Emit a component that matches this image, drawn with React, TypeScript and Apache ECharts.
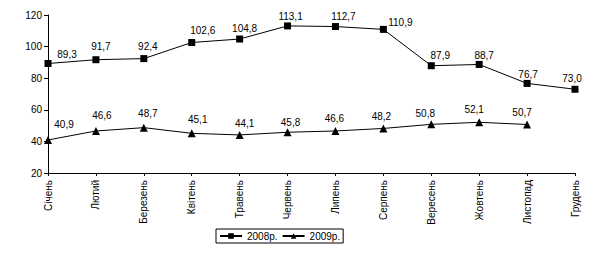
import React, { useEffect, useRef } from "react";
import * as echarts from "echarts";

const categories = ["Січень", "Лютий", "Березень", "Квітень", "Травень", "Червень", "Липень", "Серпень", "Вересень", "Жовтень", "Листопад", "Грудень"];
const series2008 = [89.3, 91.7, 92.4, 102.6, 104.8, 113.1, 112.7, 110.9, 87.9, 88.7, 76.7, 73.0];
const series2009 = [40.9, 46.6, 48.7, 45.1, 44.1, 45.8, 46.6, 48.2, 50.8, 52.1, 50.7];
const yTicks = { min: 20, max: 120, interval: 20 };

// label placement (dx, dy in px relative to the point) as in the reference
const labelShift2008 = [[19, -9], [5, -13], [4, -12], [11, -12], [5, -11], [3, -9], [8, -10], [17, -7], [9, -10], [5, -9], [1, -9], [-3, -11]];
const labelShift2009 = [[16, -15], [6, -15], [4, -14], [6, -14], [5, -11], [3, -10], [-1, -12], [-2, -12], [-6, -11], [-5, -13], [-5, -12]];

const FONT = "'Liberation Sans', Arial, sans-serif";

export default function App() {
  const ref = useRef<HTMLDivElement>(null);
  useEffect(() => {
    if (!ref.current) return;
    const chart = echarts.init(ref.current, undefined, { renderer: "svg" });
    const fmt = (p: any) => Number(p.value).toFixed(1).replace(".", ",");
    const baseLabel = {
      show: true,
      position: "inside" as const,
      color: "#000",
      fontSize: 10,
      fontFamily: FONT,
      formatter: fmt,
    };
    const build = (vals: number[], shifts: number[][]) =>
      vals.map((v, i) => ({ value: v, label: { offset: shifts[i] } }));
    chart.setOption({
      animation: false,
      backgroundColor: "#fff",
      textStyle: { fontFamily: FONT },
      grid: { left: 48, right: 22, top: 15, bottom: 85 },
      legend: {
        left: 216,
        top: 229,
        itemWidth: 22,
        itemHeight: 7,
        itemGap: 4,
        padding: [2, 3],
        borderColor: "#000",
        borderWidth: 1,
        borderRadius: 0,
        textStyle: { fontSize: 10, color: "#000", fontFamily: FONT },
        data: ["2008р.", "2009р."],
      },
      xAxis: {
        type: "category",
        data: categories,
        boundaryGap: false,
        axisLine: { lineStyle: { color: "#000", width: 1 } },
        axisTick: { show: true, length: 3, lineStyle: { color: "#000" } },
        axisLabel: { rotate: 90, fontSize: 10, color: "#000", fontFamily: FONT, margin: 7, interval: 0 },
        splitLine: { show: false },
      },
      yAxis: {
        type: "value",
        min: yTicks.min,
        max: yTicks.max,
        interval: yTicks.interval,
        axisLine: { show: true, lineStyle: { color: "#000", width: 1 } },
        axisTick: { show: true, length: 4, lineStyle: { color: "#000" } },
        axisLabel: { fontSize: 10, color: "#000", fontFamily: FONT, margin: 6 },
        splitLine: { show: false },
      },
      series: [
        {
          name: "2008р.",
          type: "line",
          data: build(series2008, labelShift2008),
          symbol: "rect",
          symbolSize: 7,
          lineStyle: { color: "#000", width: 1 },
          itemStyle: { color: "#000" },
          label: baseLabel,
        },
        {
          name: "2009р.",
          type: "line",
          data: build(series2009, labelShift2009),
          symbol: "triangle",
          symbolSize: 8,
          lineStyle: { color: "#000", width: 1 },
          itemStyle: { color: "#000" },
          label: baseLabel,
        },
      ],
    });
    return () => chart.dispose();
  }, []);
  return <div ref={ref} style={{ width: 597, height: 258, margin: -8 }} />;
}
